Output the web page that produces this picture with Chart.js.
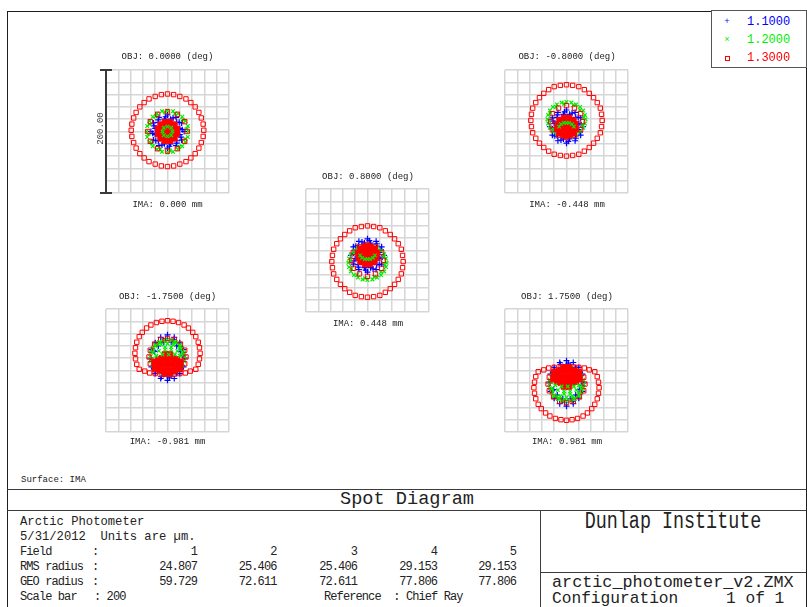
<!DOCTYPE html>
<html lang="en">
<head>
<meta charset="UTF-8" />
<title>Spot Diagram</title>
<script src="https://cdn.jsdelivr.net/npm/chart.js"></script>
<style>
  body { margin: 0; background: #fff; font-family: "Liberation Mono", monospace; color: #222; }
  #page { position: relative; width: 807px; height: 607px; overflow: hidden; background: #fff; }
  .t { position: absolute; white-space: pre; line-height: 1; }
  .plot { position: absolute; width: 147px; height: 147px; }
  .ln { position: absolute; background: #3c3c3c; }
</style>
</head>
<body>
<div id="page">
  <!-- frame -->
  <div style="position:absolute;left:7px;top:11px;width:798px;height:600px;border:1px solid #1e1e1e;"></div>
  <!-- legend box -->
  <div style="position:absolute;left:711px;top:10px;width:94px;height:56px;border:1px solid #555;background:#fff;"></div>

  <div class="plot" style="left:94px;top:58px"><canvas id="p1" width="147" height="147"></canvas></div>
  <div class="plot" style="left:493px;top:58px"><canvas id="p2" width="147" height="147"></canvas></div>
  <div class="plot" style="left:294px;top:177px"><canvas id="p3" width="147" height="147"></canvas></div>
  <div class="plot" style="left:94px;top:297px"><canvas id="p4" width="147" height="147"></canvas></div>
  <div class="plot" style="left:493px;top:297px"><canvas id="p5" width="147" height="147"></canvas></div>

  <!-- table lines -->
  <div class="ln" style="left:7px;top:489px;width:799px;height:1px"></div>
  <div class="ln" style="left:7px;top:510px;width:799px;height:1px"></div>
  <div class="ln" style="left:540px;top:510px;width:1px;height:97px"></div>
  <div class="ln" style="left:540px;top:572px;width:266px;height:1px"></div>
</div>

<script>
  // wavelengths (µm) and summary table
  const wavelengths = ['1.1000', '1.2000', '1.3000'];
  const objLabels = ['OBJ: 0.0000 (deg)', 'OBJ: -0.8000 (deg)', 'OBJ: 0.8000 (deg)', 'OBJ: -1.7500 (deg)', 'OBJ: 1.7500 (deg)'];
  const imaLabels = ['IMA: 0.000 mm', 'IMA: -0.448 mm', 'IMA: 0.448 mm', 'IMA: -0.981 mm', 'IMA: 0.981 mm'];
  const fieldNums = [1, 2, 3, 4, 5];
  const rmsRadius = [24.807, 25.406, 25.406, 29.153, 29.153];
  const geoRadius = [59.729, 72.611, 72.611, 77.806, 77.806];
  const scaleBarLabel = '200.00';

  // spot coordinates in µm, flat x,y lists
  // field 1
  const f1Blue = [27,0, 23,14, 14,23, 0,27, -14,23, -23,14, -27,0, -23,-14, -14,-23, 0,-27, 14,-23, 23,-14,
    20,5, 15,15, 5,20, -5,20, -15,15, -20,5, -20,-5, -15,-15, -5,-20, 5,-20, 15,-15, 20,-5,
    24,3, 19,15, 9,22, -3,24, -15,19, -22,9, -24,-3, -19,-15, -9,-22, 3,-24, 15,-19, 22,-9];
  const f1Green = [34,0, 33,9, 29,17, 24,24, 17,29, 9,33, 0,34, -9,33, -17,29, -24,24, -29,17, -33,9,
    -34,0, -33,-9, -29,-17, -24,-24, -17,-29, -9,-33, 0,-34, 9,-33, 17,-29, 24,-24, 29,-17, 33,-9,
    31,4, 25,19, 12,29, -4,31, -19,25, -29,12, -31,-4, -25,-19, -12,-29, 4,-31, 19,-25, 29,-12];
  const f1GreenCore = [8,0, 6,6, 0,8, -6,6, -8,0, -6,-6, 0,-8, 6,-6];
  const f1Red = [59,2, 58,12, 55,22, 51,31, 45,40, 38,47, 30,53, 20,57, 10,60, 0,61, -10,60, -20,57,
    -30,53, -38,47, -45,40, -51,31, -55,22, -58,12, -59,2, -58,-8, -55,-18, -51,-27, -45,-36, -38,-43,
    -30,-49, -20,-53, -10,-56, 0,-57, 10,-56, 20,-53, 30,-49, 38,-43, 45,-36, 51,-27, 55,-18, 58,-8,
    32,0, 28,16, 16,28, 0,32, -16,28, -28,16, -32,0, -28,-16, -16,-28, 0,-32, 16,-28, 28,-16];
  const f1RedCore = [0,0, 9,0, -9,0, 0,9, 0,-9, 7,7, -7,7, 7,-7, -7,-7, 15,4, -15,4, 15,-4, -15,-4,
    4,15, -4,15, 4,-15, -4,-15, 11,11, -11,11, 11,-11, -11,-11];

  // field 2
  const f2Blue = [27,8, 23,22, 14,31, 0,35, -14,31, -23,22, -27,8, -23,-6, -14,-15, 0,-19, 14,-15, 23,-6,
    20,13, 15,23, 5,28, -5,28, -15,23, -20,13, -20,3, -15,-7, -5,-12, 5,-12, 15,-7, 20,3,
    24,11, 19,23, 9,30, -3,32, -15,27, -22,17, -24,5, -19,-7, -9,-14, 3,-16, 15,-11, 22,-1];
  const f2Green = [31,20, 30,27, 27,34, 22,40, 15.5,44, 8,47, 0,48, -8,47, -15.5,44, -22,40, -27,34, -30,27,
    -31,20, -30,13, -27,6, -22,0, -15.5,-4, -8,-7, 0,-8, 8,-7, 15.5,-4, 22,0, 27,6, 30,13,
    28,23, 22,35, 11,43, -4,45, -17,40, -26,30, -28,17, -22,5, -11,-3, 4,-5, 17,0, 26,10];
  const f2GreenCore = [-12,8, -9,12, -4,14, 0,14, 4,14, 9,12, 12,8];
  const f2Red = [58,18, 57,28, 55,38, 50,47, 44,55, 37,62, 29,68, 20,73, 10,75, 0,76, -10,75, -20,73,
    -29,68, -37,62, -44,55, -50,47, -55,38, -57,28, -58,18, -57,8, -55,-2, -50,-11, -44,-19, -37,-26,
    -29,-32, -20,-37, -10,-39, 0,-40, 10,-39, 20,-37, 29,-32, 37,-26, 44,-19, 50,-11, 55,-2, 57,8,
    26,16, 23,29, 13,38, 0,42, -13,38, -23,29, -26,16, -23,3, -13,-6, 0,-10, 13,-6, 23,3];
  const f2RedCore = [0,8, 9,8, -9,8, 0,17, 0,-1, 7,15, -7,15, 7,1, -7,1, 14,12, -14,12, 14,4, -14,4,
    4,22, -4,22, 4,-6, -4,-6, 11,18, -11,18, 11,-2, -11,-2];

  // field 3
  const f3Blue = [27,-8, 23,-22, 14,-31, 0,-35, -14,-31, -23,-22, -27,-8, -23,6, -14,15, 0,19, 14,15, 23,6,
    20,-13, 15,-23, 5,-28, -5,-28, -15,-23, -20,-13, -20,-3, -15,7, -5,12, 5,12, 15,7, 20,-3,
    24,-11, 19,-23, 9,-30, -3,-32, -15,-27, -22,-17, -24,-5, -19,7, -9,14, 3,16, 15,11, 22,1];
  const f3Green = [31,-20, 30,-27, 27,-34, 22,-40, 15.5,-44, 8,-47, 0,-48, -8,-47, -15.5,-44, -22,-40, -27,-34, -30,-27,
    -31,-20, -30,-13, -27,-6, -22,0, -15.5,4, -8,7, 0,8, 8,7, 15.5,4, 22,0, 27,-6, 30,-13,
    28,-23, 22,-35, 11,-43, -4,-45, -17,-40, -26,-30, -28,-17, -22,-5, -11,3, 4,5, 17,0, 26,-10];
  const f3GreenCore = [-12,-8, -9,-12, -4,-14, 0,-14, 4,-14, 9,-12, 12,-8];
  const f3Red = [58,-18, 57,-28, 55,-38, 50,-47, 44,-55, 37,-62, 29,-68, 20,-73, 10,-75, 0,-76, -10,-75, -20,-73,
    -29,-68, -37,-62, -44,-55, -50,-47, -55,-38, -57,-28, -58,-18, -57,-8, -55,2, -50,11, -44,19, -37,26,
    -29,32, -20,37, -10,39, 0,40, 10,39, 20,37, 29,32, 37,26, 44,19, 50,11, 55,2, 57,-8,
    26,-16, 23,-29, 13,-38, 0,-42, -13,-38, -23,-29, -26,-16, -23,-3, -13,6, 0,10, 13,6, 23,-3];
  const f3RedCore = [0,-8, 9,-8, -9,-8, 0,-17, 0,1, 7,-15, -7,-15, 7,-1, -7,-1, 14,-12, -14,-12, 14,-4, -14,-4,
    4,-22, -4,-22, 4,6, -4,6, 11,-18, -11,-18, 11,2, -11,2];

  // field 4
  const f4Blue = [28,20, 26,34, 20,45, 11,54, 0,58, -11,54, -20,45, -26,34, -28,20, -26,6, -20,-5, -11,-13,
    0,-16, 11,-13, 20,-5, 26,6, 21,31, 15,40, 6,46, -6,46, -15,40, -21,31, -21,9, -15,0, -6,-6, 6,-6, 15,0, 21,9,
    25,24, 20,39, 10,50, -3,52, -15,45, -23,32, -25,16, -20,1, -10,-10, 3,-12, 15,-5, 23,8];
  const f4Green = [28,22, 27,29, 24,36, 20,42, 14,46, 7,49, 0,50, -7,49, -14,46, -20,42, -24,36, -27,29,
    -28,22, -27,15, -24,8, -20,2, -14,-2, -7,-5, 0,-6, 7,-5, 14,-2, 20,2, 24,8, 27,15,
    25,25, 20,37, 10,45, -3,47, -15,42, -23,32, -25,19, -20,7, -10,-1, 3,-3, 15,2, 23,12];
  const f4GreenCore = [-20,40, -10,42, 0,44, 10,42, 20,40, -24,30, -14,32, -4,34, 6,34, 16,32, 24,30,
    -18,24, -8,26, 2,26, 12,26, 20,24, -12,46, 12,46, -4,38, 6,38];
  const f4Red = [46,2, 50,10, 52,19, 53,28, 52,37, 50,46, 46,55, 41,62, 34,69, 27,74, 18,78, 9,80, 0,81,
    -9,80, -18,78, -27,74, -34,69, -41,62, -46,55, -50,46, -52,37, -53,28, -52,19, -50,10, -46,2,
    -37,-1, -29,-4, -20,-5, -10,-6, 0,-6, 10,-6, 20,-5, 29,-4, 37,-1,
    30,22, 28,33, 21,43, 11,50, 0,52, -11,50, -21,43, -28,33, -30,22, -28,11, 28,11, -21,2, 21,2];
  const f4RedCore = [0,10, 9,10, -9,10, 18,10, -18,10, 0,20, 0,0, 9,20, -9,20, 9,0, -9,0, 15,18, -15,18,
    15,2, -15,2, 4,26, -4,26, 4,-5, -4,-5, 20,5, -20,5, 21,14, -21,14];

  // field 5
  const f5Blue = [28,-20, 26,-34, 20,-45, 11,-54, 0,-58, -11,-54, -20,-45, -26,-34, -28,-20, -26,-6, -20,5, -11,13,
    0,16, 11,13, 20,5, 26,-6, 21,-31, 15,-40, 6,-46, -6,-46, -15,-40, -21,-31, -21,-9, -15,0, -6,6, 6,6, 15,0, 21,-9,
    25,-24, 20,-39, 10,-50, -3,-52, -15,-45, -23,-32, -25,-16, -20,-1, -10,10, 3,12, 15,5, 23,-8];
  const f5Green = [28,-22, 27,-29, 24,-36, 20,-42, 14,-46, 7,-49, 0,-50, -7,-49, -14,-46, -20,-42, -24,-36, -27,-29,
    -28,-22, -27,-15, -24,-8, -20,-2, -14,2, -7,5, 0,6, 7,5, 14,2, 20,-2, 24,-8, 27,-15,
    25,-25, 20,-37, 10,-45, -3,-47, -15,-42, -23,-32, -25,-19, -20,-7, -10,1, 3,3, 15,-2, 23,-12];
  const f5GreenCore = [-20,-40, -10,-42, 0,-44, 10,-42, 20,-40, -24,-30, -14,-32, -4,-34, 6,-34, 16,-32, 24,-30,
    -18,-24, -8,-26, 2,-26, 12,-26, 20,-24, -12,-46, 12,-46, -4,-38, 6,-38];
  const f5Red = [46,-2, 50,-10, 52,-19, 53,-28, 52,-37, 50,-46, 46,-55, 41,-62, 34,-69, 27,-74, 18,-78, 9,-80, 0,-81,
    -9,-80, -18,-78, -27,-74, -34,-69, -41,-62, -46,-55, -50,-46, -52,-37, -53,-28, -52,-19, -50,-10, -46,-2,
    -37,1, -29,4, -20,5, -10,6, 0,6, 10,6, 20,5, 29,4, 37,1,
    30,-22, 28,-33, 21,-43, 11,-50, 0,-52, -11,-50, -21,-43, -28,-33, -30,-22, -28,-11, 28,-11, -21,-2, 21,-2];
  const f5RedCore = [0,-10, 9,-10, -9,-10, 18,-10, -18,-10, 0,-20, 0,0, 9,-20, -9,-20, 9,0, -9,0, 15,-18, -15,-18,
    15,-2, -15,-2, 4,-26, -4,-26, 4,5, -4,5, 20,-5, -20,-5, 21,-14, -21,-14];

  const BLUE = '#0000ff', GREEN = '#00ee00', RED = '#ff0000';
  const PAD = 12;

  function pts(a) {
    const out = [];
    for (let i = 0; i < a.length; i += 2) out.push({ x: a[i], y: a[i + 1] });
    return out;
  }

  // vertical scale bar drawn on the first plot
  const scaleBar = {
    id: 'scaleBar',
    afterDraw(chart, args, opts) {
      if (!opts.show) return;
      const ctx = chart.ctx, a = chart.chartArea, y = chart.scales.y;
      const top = y.getPixelForValue(100), bot = y.getPixelForValue(-100);
      ctx.save();
      ctx.strokeStyle = '#3a3a3a';
      ctx.lineWidth = 2;
      ctx.beginPath();
      ctx.moveTo(a.left, top); ctx.lineTo(a.left, bot);
      ctx.moveTo(a.left - 6, top); ctx.lineTo(a.left + 6, top);
      ctx.moveTo(a.left - 6, bot); ctx.lineTo(a.left + 6, bot);
      ctx.stroke();
      ctx.translate(a.left - 5, (top + bot) / 2 - 3);
      ctx.rotate(-Math.PI / 2);
      ctx.fillStyle = '#444';
      ctx.font = '9px "Liberation Mono"';
      ctx.textAlign = 'center';
      ctx.textBaseline = 'middle';
      ctx.fillText(opts.label, 0, 0);
      ctx.restore();
    }
  };

  function axis() {
    return {
      min: -100, max: 100,
      ticks: { display: false, stepSize: 20 },
      grid: { color: '#d6d6d6', lineWidth: 1.5, drawTicks: false },
      border: { display: false }
    };
  }

  function spot(id, blue, green, greenCore, red, redCore, withBar) {
    new Chart(document.getElementById(id), {
      type: 'scatter',
      data: {
        datasets: [
          { label: wavelengths[1], data: pts(greenCore), pointStyle: 'crossRot', pointRadius: 2.5,
            pointBorderColor: GREEN, pointBorderWidth: 1.2 },
          { label: wavelengths[2], data: pts(redCore), pointStyle: 'rect', pointRadius: 4,
            pointBackgroundColor: RED, pointBorderColor: RED, pointBorderWidth: 1 },
          { label: wavelengths[2], data: pts(red), pointStyle: 'rect', pointRadius: 3.1,
            pointBackgroundColor: 'rgba(255,255,255,0)', pointBorderColor: RED, pointBorderWidth: 1 },
          { label: wavelengths[1], data: pts(green), pointStyle: 'crossRot', pointRadius: 2.6,
            pointBorderColor: GREEN, pointBorderWidth: 1.2 },
          { label: wavelengths[0], data: pts(blue), pointStyle: 'cross', pointRadius: 3,
            pointBorderColor: BLUE, pointBorderWidth: 1.2 }
        ]
      },
      options: {
        responsive: false,
        animation: false,
        layout: { padding: PAD },
        plugins: {
          legend: { display: false },
          tooltip: { enabled: false },
          scaleBar: { show: withBar, label: scaleBarLabel }
        },
        scales: { x: axis(), y: axis() }
      },
      plugins: [scaleBar]
    });
  }

  spot('p1', f1Blue, f1Green, f1GreenCore, f1Red, f1RedCore, true);
  spot('p2', f2Blue, f2Green, f2GreenCore, f2Red, f2RedCore, false);
  spot('p3', f3Blue, f3Green, f3GreenCore, f3Red, f3RedCore, false);
  spot('p4', f4Blue, f4Green, f4GreenCore, f4Red, f4RedCore, false);
  spot('p5', f5Blue, f5Green, f5GreenCore, f5Red, f5RedCore, false);

  // text
  const page = document.getElementById('page');
  function addText(txt, x, y, css, align) {
    const d = document.createElement('div');
    d.className = 't';
    d.textContent = txt;
    d.style.cssText += css;
    d.style.left = x + 'px';
    d.style.top = y + 'px';
    const tx = align === 'center' ? '-50%' : align === 'right' ? '-100%' : '0';
    d.style.transform = 'translate(' + tx + ',-50%)';
    page.appendChild(d);
    return d;
  }

  const centers = [[167.5, 57, 205], [567, 57, 205], [368, 177, 324], [167.5, 297, 442], [567, 297, 442]];
  centers.forEach((c, i) => {
    addText(objLabels[i], c[0], c[1], 'font-size:9px;', 'center');
    addText(imaLabels[i], c[0], c[2], 'font-size:9px;', 'center');
  });

  // legend
  const legColors = [BLUE, GREEN, RED];
  const legMarks = ['+', '\u00d7', ''];
  [22, 40, 58].forEach((y, i) => {
    addText(wavelengths[i], 747, y, 'font-size:12px;color:' + legColors[i] + ';', 'left');
    if (i < 2) addText(legMarks[i], 727, y, 'font-size:9px;color:' + legColors[i] + ';', 'center');
  });
  const sq = document.createElement('div');
  sq.style.cssText = 'position:absolute;left:725px;top:56px;width:3px;height:3px;border:1px solid ' + RED + ';';
  page.appendChild(sq);

  addText('Surface: IMA', 21, 480, 'font-size:9px;', 'left');
  addText('Spot Diagram', 407, 500, 'font-size:18.6px;', 'center');

  addText('Arctic Photometer', 20, 521.5, 'font-size:12.2px;', 'left');
  addText('5/31/2012  Units are \u00b5m.', 20, 536.5, 'font-size:12.2px;', 'left');
  const rowCss = 'font-size:12px;letter-spacing:-0.9px;';
  addText('Field', 20, 551.5, rowCss, 'left');
  addText('RMS radius', 20, 566.5, rowCss, 'left');
  addText('GEO radius', 20, 581.5, rowCss, 'left');
  addText('Scale bar', 20, 596.5, rowCss, 'left');
  [551.5, 566.5, 581.5].forEach(y => addText(':', 92, y, rowCss, 'left'));
  addText(': 200', 94, 596.5, rowCss, 'left');
  addText('Reference  : Chief Ray', 324, 596.5, rowCss, 'left');

  const colRight = [197, 276.5, 357, 437, 516];
  fieldNums.forEach((f, i) => {
    addText(String(f), colRight[i], 551.5, rowCss, 'right');
    addText(rmsRadius[i].toFixed(3), colRight[i], 566.5, rowCss, 'right');
    addText(geoRadius[i].toFixed(3), colRight[i], 581.5, rowCss, 'right');
  });

  const dun = addText('Dunlap Institute', 673, 523, 'font-size:18.4px;', 'center');
  dun.style.transform = 'translate(-50%,-50%) scaleY(1.25)';
  addText('arctic_photometer_v2.ZMX', 552, 583, 'font-size:16.8px;', 'left');
  addText('Configuration', 552, 598.5, 'font-size:16.2px;', 'left');
  addText('1 of 1', 726, 598.5, 'font-size:16.2px;', 'left');
</script>
</body>
</html>
